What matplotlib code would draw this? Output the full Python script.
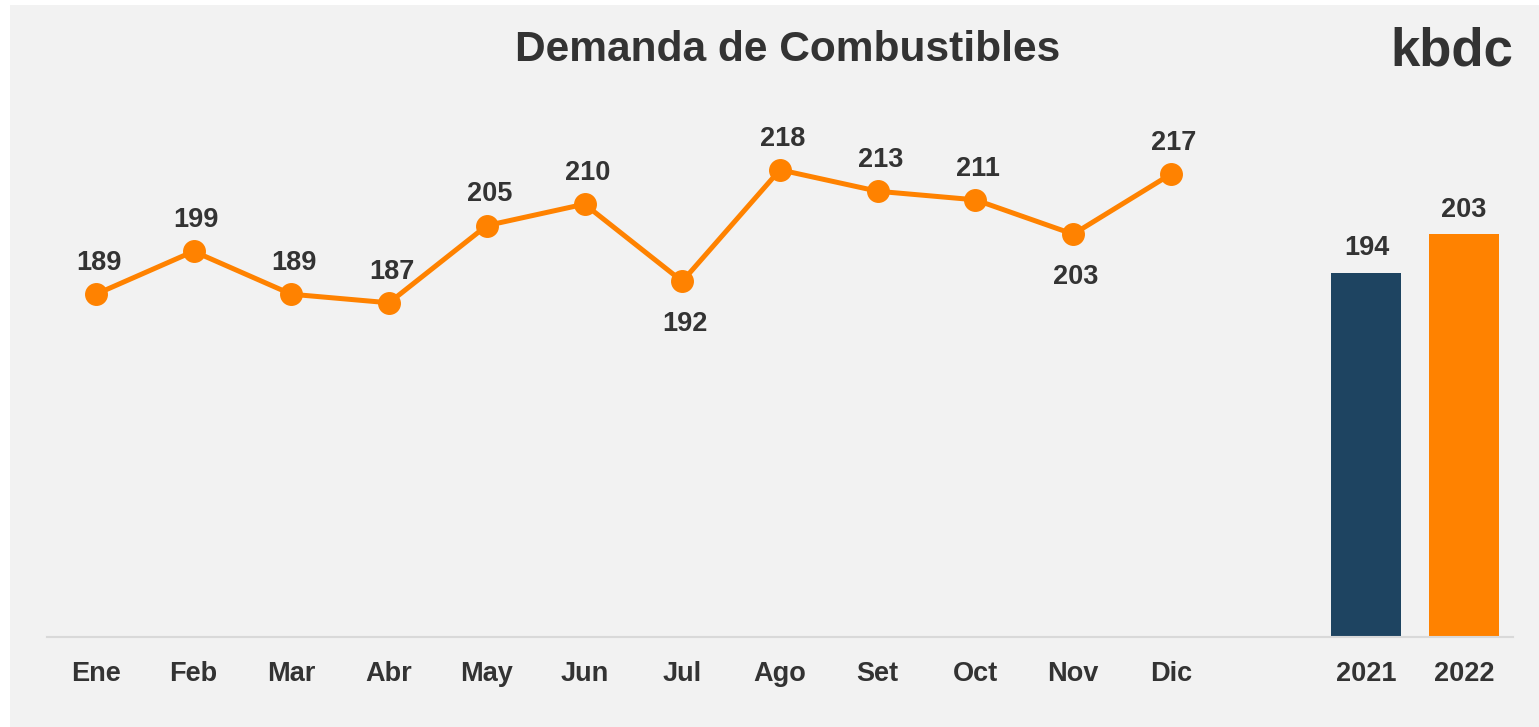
import matplotlib.pyplot as plt
from matplotlib.patches import Rectangle

# monthly demand (kbdc)
meses = ['Ene', 'Feb', 'Mar', 'Abr', 'May', 'Jun', 'Jul', 'Ago', 'Set', 'Oct', 'Nov', 'Dic']
demanda_mes = [189, 199, 189, 187, 205, 210, 192, 218, 213, 211, 203, 217]
# labels that go under the point instead of above
abajo = ['Jul', 'Nov']

# yearly averages
anios = ['2021', '2022']
demanda_anio = [194, 203]
colores_anio = ['#1E4461', '#FF8200']

NARANJA = '#FF8200'
TEXTO = '#333333'


def demanda_combustibles():
    plt.rcParams['font.family'] = ['Liberation Sans', 'DejaVu Sans']
    fig = plt.figure(figsize=(15.39, 7.27), dpi=100, facecolor='white')
    # gray panel with thin white strip on left and top
    fig.patches.append(Rectangle((10 / 1539, 0), 1, 1 - 5 / 727, transform=fig.transFigure,
                                 facecolor='#F2F2F2', edgecolor='none', zorder=-10))

    ax = fig.add_axes([47 / 1539, 1 - 637 / 727, (1513 - 47) / 1539, (637 - 75) / 727])
    ax.set_facecolor('none')

    x_mes = list(range(len(meses)))
    x_anio = [len(meses) + 1 + i for i in range(len(anios))]

    ax.plot(x_mes, demanda_mes, color=NARANJA, lw=3.6, marker='o', markersize=15.5,
            solid_capstyle='round', zorder=3)
    for x, v, m in zip(x_mes, demanda_mes, meses):
        dy = -31 if m in abajo else 22.5
        ax.annotate(str(v), (x, v), xytext=(2, dy), textcoords='offset points',
                    ha='center', va='center', fontsize=19.5, fontweight='bold', color=TEXTO)

    ax.bar(x_anio, demanda_anio, width=0.715, color=colores_anio, zorder=2)
    for x, v in zip(x_anio, demanda_anio):
        ax.annotate(str(v), (x, v), xytext=(0, 17.5), textcoords='offset points',
                    ha='center', va='center', fontsize=19.5, fontweight='bold', color=TEXTO)

    ax.set_xlim(-0.5, x_anio[-1] + 0.5)
    ax.set_ylim(109.1, 240.1)
    ax.set_xticks(x_mes + x_anio)
    ax.set_xticklabels(meses + anios, fontsize=19.5, fontweight='bold', color=TEXTO)
    ax.tick_params(axis='x', length=0, pad=17)
    ax.set_yticks([])
    for s in ['top', 'right', 'left']:
        ax.spines[s].set_visible(False)
    ax.spines['bottom'].set_color('#D9D9D9')
    ax.spines['bottom'].set_linewidth(1.5)

    fig.text(788 / 1539, 1 - 50 / 727, 'Demanda de Combustibles', ha='center', va='center',
             fontsize=30.6, fontweight='bold', color=TEXTO)
    fig.text(1452 / 1539, 1 - 52 / 727, 'kbdc', ha='center', va='center',
             fontsize=38, fontweight='bold', color=TEXTO)

    fig.savefig('out.png', dpi=100, facecolor=fig.get_facecolor())


if __name__ == '__main__':
    demanda_combustibles()
